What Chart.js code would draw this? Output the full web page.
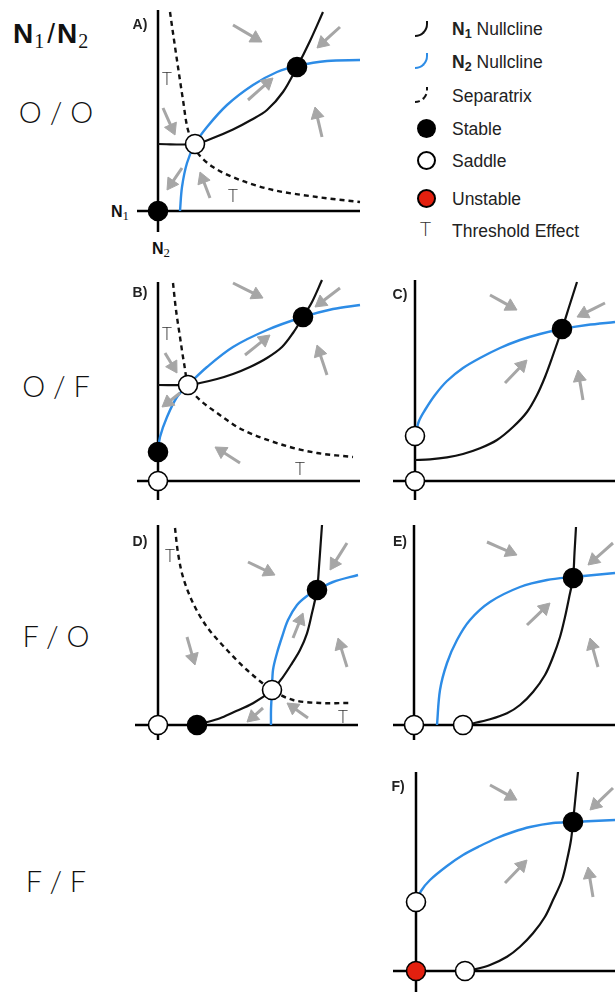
<!DOCTYPE html>
<html>
<head>
<meta charset="utf-8">
<script src="https://cdn.jsdelivr.net/npm/chart.js@4/dist/chart.umd.min.js"></script>
<style>
html,body{margin:0;padding:0;background:#fff;}
#fig{position:relative;width:616px;height:992px;overflow:hidden;font-family:"Liberation Sans",Arial,sans-serif;color:#222;}
canvas{position:absolute;}
.lab{position:absolute;line-height:1;white-space:nowrap;}
.row{font-family:Lato,"Liberation Sans",sans-serif;font-weight:300;font-size:29px;color:#111;transform:translate(-50%,-50%);}
.leg{font-size:17.5px;color:#222;transform:translateY(-50%);left:452px;}
.ax{font-weight:bold;font-size:16px;color:#111;transform:translate(-50%,-50%);}
.sr{font-family:"Liberation Serif",serif;font-weight:normal;font-size:0.8em;position:relative;top:0.22em;}
.sb{font-size:0.72em;position:relative;top:0.2em;}
.ico{position:absolute;box-sizing:border-box;}
</style>
</head>
<body>
<div id="fig">
  <div class="lab" style="left:13px;top:20px;font-weight:bold;font-size:28px;color:#111;">N<span class="sr" style="font-size:20px;top:5px;margin-left:1px;">1</span><span style="font-weight:normal;margin:0 2px 0 3px;">/</span>N<span class="sr" style="font-size:20px;top:5px;margin-left:1px;">2</span></div>
  <div class="lab row" style="left:56px;top:111px;">O / O</div>
  <div class="lab row" style="left:56px;top:385px;">O / F</div>
  <div class="lab row" style="left:56px;top:635px;">F / O</div>
  <div class="lab row" style="left:56px;top:880px;">F / F</div>

  <div class="lab ax" style="left:120px;top:212px;">N<span class="sr">1</span></div>
  <div class="lab ax" style="left:161px;top:249px;">N<span class="sr">2</span></div>

  <div class="ico" style="left:415px;top:21px;width:13px;height:16px;border-right:2px solid #111;border-bottom:2px solid #111;border-bottom-right-radius:14px;"></div>
  <div class="lab leg" style="top:30px;"><b>N<span class="sb">1</span></b> Nullcline</div>
  <div class="ico" style="left:415px;top:53px;width:13px;height:16px;border-right:2px solid #2d8ce6;border-bottom:2px solid #2d8ce6;border-bottom-right-radius:14px;"></div>
  <div class="lab leg" style="top:63px;"><b>N<span class="sb">2</span></b> Nullcline</div>
  <div class="ico" style="left:415px;top:87px;width:13px;height:16px;border-right:2px dashed #111;border-bottom:2px dashed #111;border-bottom-right-radius:14px;"></div>
  <div class="lab leg" style="top:97px;">Separatrix</div>
  <div class="ico" style="left:417px;top:119px;width:19px;height:19px;border-radius:50%;background:#000;"></div>
  <div class="lab leg" style="top:130px;">Stable</div>
  <div class="ico" style="left:417px;top:151px;width:19px;height:19px;border-radius:50%;background:#fff;border:2px solid #000;"></div>
  <div class="lab leg" style="top:162px;">Saddle</div>
  <div class="ico" style="left:417px;top:189px;width:19px;height:19px;border-radius:50%;background:#e3200f;border:2px solid #000;"></div>
  <div class="lab leg" style="top:200px;">Unstable</div>
  <div class="lab" style="left:420px;top:219px;font-family:Lato,sans-serif;font-weight:300;font-size:19px;color:#333;">T</div>
  <div class="lab leg" style="top:232px;">Threshold Effect</div>
</div>
<script>
var U = 10; // pixels per unit on both axes

// Panel A : O / O
var aAxisX = [-2.1, 20.2];
var aAxisY = [-2.1, 20.1];
var aN1 = [[0,6.7],[3.7,6.7],[5.5,7.3],[7.5,8.15],[9.3,9.1],[10.9,10.1],[12.5,11.9],[13.9,14.4],[15.2,17.0],[16.5,19.9]];
var aN2 = [[2.2,0],[2.4,2.4],[2.9,4.8],[3.7,6.7],[4.9,8.4],[6.9,10.6],[9.5,12.6],[11.9,13.9],[13.9,14.5],[16.9,15.0],[20.2,15.1]];
var aSep = [[1.2,19.9],[1.5,17.8],[2.0,14.4],[2.5,11.1],[3.0,8.1],[3.9,5.9],[5.5,4.4],[8.2,3.1],[11.5,2.1],[15.9,1.4],[20.2,0.9]];
var aStable = [[0,0],[13.9,14.4]];
var aSaddle = [[3.7,6.7]];
var aUnstable = [];
var aArrows = [[7.5,18.6,10.4,16.9],[18.2,18.4,15.9,16.3],[9.0,11.1,11.5,13.3],[16.4,7.4,15.7,10.4],[0.5,10.3,1.7,7.6],[2.4,4.3,0.9,2.1],[5.2,1.3,4.2,3.9]];
var aT = [[0.9,13.1],[7.5,1.4]];
var aTag = [-1.8,18.6];

// Panel B : O / F
var bAxisX = [-2.1, 20.2];
var bAxisY = [-1.9, 19.9];
var bN1 = [[0,9.6],[3.0,9.6],[4.2,9.8],[5.9,10.2],[7.5,10.7],[9.2,11.4],[10.9,12.3],[12.4,13.4],[13.5,14.8],[14.5,16.4],[15.4,17.9],[16.4,20.1]];
var bN2 = [[0,2.9],[0.2,4.4],[0.9,6.4],[1.9,8.4],[3.0,9.6],[4.9,11.4],[7.5,13.4],[10.9,15.1],[14.5,16.4],[17.5,17.2],[20.2,17.6]];
var bSep = [[1.5,19.8],[1.8,17.1],[2.2,14.4],[2.6,11.8],[3.1,9.4],[4.2,8.1],[5.9,6.8],[8.5,5.1],[12.5,3.6],[15.9,2.8],[19.5,2.4]];
var bStable = [[0,2.9],[14.5,16.4]];
var bSaddle = [[0,0],[3.0,9.6]];
var bUnstable = [];
var bArrows = [[7.5,19.8,10.5,18.3],[18.2,19.3,15.7,17.4],[8.7,12.6,11.2,14.6],[16.9,10.6,15.9,13.6],[0.7,12.8,1.9,10.8],[2.2,8.8,0.4,7.4],[8.2,1.8,5.7,3.4]];
var bT = [[0.9,14.6],[14.2,1.1]];
var bTag = [-1.8,18.8];

// Panel C : O / F
var cAxisX = [-2.2, 20.0];
var cAxisY = [-1.9, 20.1];
var cN1 = [[0,2.1],[1.5,2.17],[3.2,2.37],[4.8,2.7],[6.5,3.27],[8.2,4.1],[9.8,5.4],[11.2,6.9],[12.2,8.6],[13.0,10.4],[13.7,12.3],[14.7,15.2],[15.45,17.55],[16.2,19.9]];
var cN2 = [[0,4.5],[0.4,6.0],[1.0,7.1],[2.0,8.6],[3.2,10.0],[4.8,11.3],[6.5,12.3],[8.5,13.3],[10.5,14.1],[12.5,14.7],[14.7,15.2],[17.2,15.6],[20.0,15.9]];
var cSep = [];
var cStable = [[14.7,15.2]];
var cSaddle = [[0,0],[0,4.5]];
var cUnstable = [];
var cArrows = [[7.5,18.6,10.2,17.1],[19.0,17.8,16.2,16.4],[9.0,9.8,11.2,12.1],[16.8,8.1,16.3,11.1]];
var cT = [];
var cTag = [-1.5,18.6];

// Panel D : F / O
var dAxisX = [-2.3, 20.0];
var dAxisY = [-1.5, 20.0];
var dN1 = [[3.9,0],[4.5,0.17],[6.2,0.67],[7.5,1.25],[9.5,2.17],[11.4,3.5],[12.4,4.67],[13.4,6.17],[14.2,7.5],[14.9,9.17],[15.4,11.2],[15.9,13.5],[16.1,15.8],[16.25,17.9],[16.4,20.0]];
var dN2 = [[11.3,0],[11.3,1.5],[11.4,3.5],[11.5,5.5],[11.9,7.2],[12.4,8.8],[13.0,10.5],[13.9,12.0],[14.9,12.9],[15.9,13.5],[17.5,14.3],[20.0,15.0]];
var dSep = [[1.7,19.7],[2.0,17.2],[2.5,14.8],[3.5,12.2],[4.9,9.8],[6.9,7.5],[8.9,5.5],[11.4,3.5],[13.5,2.5],[16.2,2.2],[19.2,2.2]];
var dStable = [[3.9,0],[15.9,13.5]];
var dSaddle = [[0,0],[11.4,3.5]];
var dUnstable = [];
var dArrows = [[9.0,16.3,11.7,15.0],[18.9,18.2,17.2,15.5],[13.5,8.7,14.5,11.2],[18.9,5.8,18.0,8.7],[2.9,8.8,3.7,6.0],[10.5,1.7,8.9,0.3],[15.0,0.7,12.9,2.2]];
var dT = [[1.2,16.8],[18.5,0.7]];
var dTag = [-1.8,18.3];

// Panel E : F / O
var eAxisX = [-2.1, 20.1];
var eAxisY = [-1.5, 20.0];
var eN1 = [[4.9,0],[5.9,0.17],[7.6,0.57],[9.3,1.17],[10.6,2.0],[11.9,3.3],[13.1,5.0],[13.9,6.8],[14.6,8.8],[15.1,10.8],[15.5,12.7],[15.9,14.7],[16.05,17.2],[16.2,19.8]];
var eN2 = [[2.3,0],[2.6,3.5],[3.3,6.2],[4.3,8.5],[5.6,10.5],[7.6,12.3],[10.6,13.8],[13.3,14.5],[15.9,14.8],[20.1,15.2]];
var eSep = [];
var eStable = [[15.9,14.7]];
var eSaddle = [[0,0],[4.9,0]];
var eUnstable = [];
var eArrows = [[7.3,18.3,10.3,17.0],[19.9,18.2,17.4,16.0],[11.3,10.0,13.6,12.2],[18.4,5.8,17.6,8.7]];
var eT = [];
var eTag = [-1.4,18.3];

// Panel F : F / F
var fAxisX = [-2.3, 19.9];
var fAxisY = [-2.1, 19.9];
var fN1 = [[4.9,0],[5.9,0.17],[7.4,0.6],[9.1,1.43],[10.4,2.43],[11.7,3.77],[12.9,5.43],[13.7,7.1],[14.6,9.1],[15.1,11.1],[15.5,13.1],[15.7,14.9],[15.95,17.4],[16.2,19.9]];
var fN2 = [[0,6.9],[0.5,8.0],[1.4,9.1],[3.1,10.5],[4.7,11.6],[6.4,12.5],[8.1,13.3],[9.7,13.9],[11.4,14.4],[13.7,14.8],[15.7,14.9],[17.7,15.0],[19.9,15.1]];
var fSep = [];
var fStable = [[15.7,14.9]];
var fSaddle = [[0,6.9],[4.9,0]];
var fUnstable = [[0,0]];
var fArrows = [[7.4,18.6,10.1,17.1],[19.7,18.3,17.4,16.1],[8.9,8.8,11.1,11.1],[17.7,7.4,17.2,10.4]];
var fT = [];
var fTag = [-1.8,18.4];

var BLUE = '#2d8ce6', GREY = '#a6a6a6', RED = '#e3200f';
var HEAD = 7.5; // arrow head radius, px

function pts(a){ return a.map(function(p){ return {x:p[0], y:p[1]}; }); }

function curve(a, color, width, dash){
  return {data:pts(a), showLine:true, borderColor:color, borderWidth:width, borderDash:dash||[],
          pointRadius:0, tension:0.33, fill:false, borderCapStyle:'butt'};
}
function dots(a, fill){
  return {data:pts(a), showLine:false, pointRadius:9.5, pointBackgroundColor:fill,
          pointBorderColor:'#000', pointBorderWidth:1.6};
}

function makePanel(id, box, origin, p){
  var cv = document.createElement('canvas');
  cv.width = box[2]; cv.height = box[3];
  cv.style.left = box[0]+'px'; cv.style.top = box[1]+'px';
  document.getElementById('fig').appendChild(cv);

  var ds = [];
  ds.push(dots(p.unstable, RED));
  ds.push(dots(p.stable, '#000'));
  ds.push(dots(p.saddle, '#fff'));

  // arrows: head triangles + shafts
  var heads = [], rot = [];
  var shafts = [];
  p.arrows.forEach(function(a){
    var dx = a[2]-a[0], dy = a[3]-a[1], L = Math.sqrt(dx*dx+dy*dy);
    var ux = dx/L, uy = dy/L, back = HEAD/U;
    var cx = a[2]-ux*back, cy = a[3]-uy*back;
    heads.push([cx, cy]);
    rot.push(Math.atan2(dx, dy)*180/Math.PI);
    shafts.push(curve([[a[0],a[1]],[cx,cy]], GREY, 3));
  });
  ds.push({data:pts(heads), showLine:false, pointStyle:'triangle', pointRadius:HEAD,
           pointRotation:rot, pointBackgroundColor:GREY, pointBorderColor:GREY, pointBorderWidth:1});
  shafts.forEach(function(s){ ds.push(s); });

  if (p.sep.length) ds.push(curve(p.sep, '#111', 2.4, [5,4]));
  ds.push(curve(p.n1, '#111', 2.2));
  ds.push(curve(p.n2, BLUE, 2.4));
  ds.push(curve([[p.axisX[0],0],[p.axisX[1],0]], '#000', 2.5));
  ds.push(curve([[0,p.axisY[0]],[0,p.axisY[1]]], '#000', 2.5));

  var texts = p.T.map(function(t){ return {text:'T', x:t[0], y:t[1], font:'300 17px Lato, "Liberation Sans", sans-serif', color:'#333'}; });
  texts.push({text:id+')', x:p.tag[0], y:p.tag[1], font:'bold 14px "Liberation Sans", Arial, sans-serif', color:'#222'});

  var textPlugin = {
    id:'panelText',
    afterDatasetsDraw:function(chart){
      var ctx = chart.ctx, xs = chart.scales.x, ys = chart.scales.y;
      ctx.save();
      ctx.textAlign = 'center'; ctx.textBaseline = 'middle';
      texts.forEach(function(t){
        ctx.font = t.font; ctx.fillStyle = t.color;
        ctx.fillText(t.text, xs.getPixelForValue(t.x), ys.getPixelForValue(t.y));
      });
      ctx.restore();
    }
  };

  new Chart(cv.getContext('2d'), {
    type:'scatter',
    data:{datasets:ds},
    options:{
      responsive:false, animation:false, events:[],
      layout:{padding:0, autoPadding:false},
      scales:{
        x:{type:'linear', display:false, min:(box[0]-origin[0])/U, max:(box[0]+box[2]-origin[0])/U},
        y:{type:'linear', display:false, min:(origin[1]-box[1]-box[3])/U, max:(origin[1]-box[1])/U}
      },
      plugins:{legend:{display:false}, tooltip:{enabled:false}}
    },
    plugins:[textPlugin]
  });
}

makePanel('A', [128,0,237,245], [158,211], {axisX:aAxisX, axisY:aAxisY, n1:aN1, n2:aN2, sep:aSep, stable:aStable, saddle:aSaddle, unstable:aUnstable, arrows:aArrows, T:aT, tag:aTag});
makePanel('B', [128,270,237,235], [158,481], {axisX:bAxisX, axisY:bAxisY, n1:bN1, n2:bN2, sep:bSep, stable:bStable, saddle:bSaddle, unstable:bUnstable, arrows:bArrows, T:bT, tag:bTag});
makePanel('C', [385,270,231,235], [415,481], {axisX:cAxisX, axisY:cAxisY, n1:cN1, n2:cN2, sep:cSep, stable:cStable, saddle:cSaddle, unstable:cUnstable, arrows:cArrows, T:cT, tag:cTag});
makePanel('D', [128,515,237,235], [158,725], {axisX:dAxisX, axisY:dAxisY, n1:dN1, n2:dN2, sep:dSep, stable:dStable, saddle:dSaddle, unstable:dUnstable, arrows:dArrows, T:dT, tag:dTag});
makePanel('E', [385,515,231,235], [414,725], {axisX:eAxisX, axisY:eAxisY, n1:eN1, n2:eN2, sep:eSep, stable:eStable, saddle:eSaddle, unstable:eUnstable, arrows:eArrows, T:eT, tag:eTag});
makePanel('F', [385,762,231,230], [416,971], {axisX:fAxisX, axisY:fAxisY, n1:fN1, n2:fN2, sep:fSep, stable:fStable, saddle:fSaddle, unstable:fUnstable, arrows:fArrows, T:fT, tag:fTag});
</script>
</body>
</html>
